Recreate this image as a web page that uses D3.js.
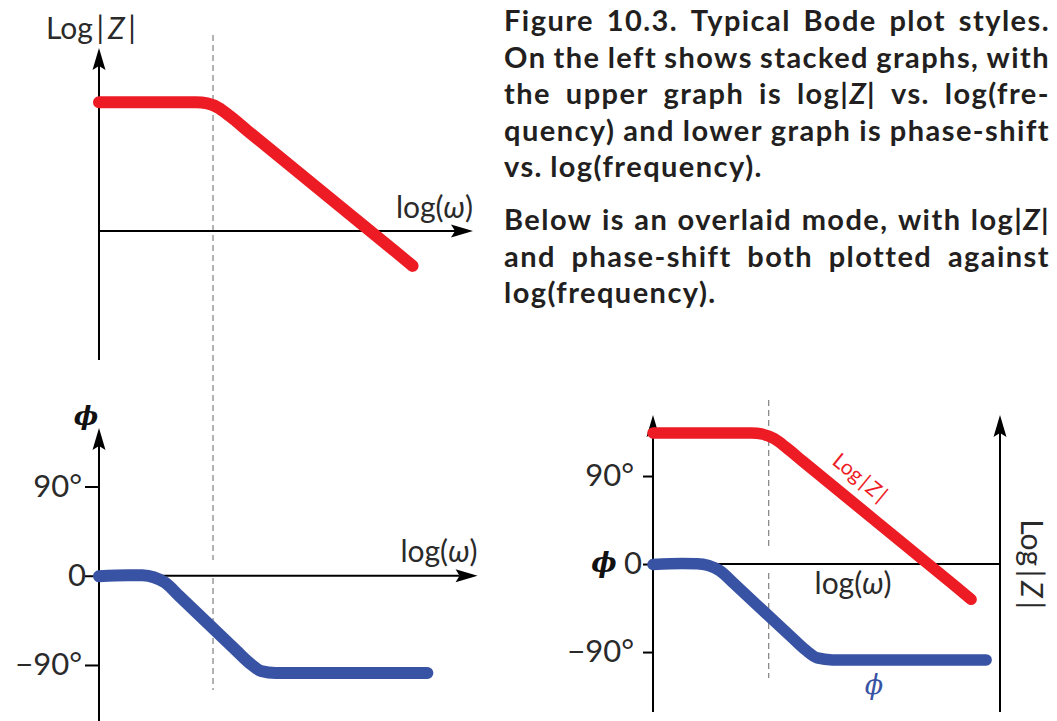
<!DOCTYPE html>
<html><head><meta charset="utf-8">
<script src="https://cdn.jsdelivr.net/npm/d3@7"></script>
<style>body{margin:0;background:#fff}svg{display:block}</style>
</head><body>
<svg id="c" width="1057" height="721"></svg>
<script>
// ---------------- data ----------------
// x = log(omega) relative to the corner frequency (dashed line at 0)
const magLogOmega   = [-1, -0.15, -0.05, 0.05, 0.15, 0.3, 1.6, 1.75];
const magValues     = [1.0, 1.0, 0.99, 0.955, 0.89, 0.78, -0.16, -0.27];      // log|Z| (arbitrary units)
const phaseLogOmega = [-1, -0.75, -0.62, -0.52, -0.42, -0.3, 0.2, 0.32, 0.42, 0.55, 1.88];
const phaseValues   = [-0.5, 0.6, 0.4, -1.5, -7, -20, -75, -88, -96, -98, -98];   // degrees
const phaseTicks      = [90, 0, -90];
const phaseTickLabels = ["90°", "0", "−90°"];
const captionLines = [
  "Figure 10.3. Typical Bode plot styles.",
  "On the left shows stacked graphs, with",
  "the upper graph is log|*Z*| vs. log(fre-",
  "quency) and lower graph is phase-shift",
  "vs. log(frequency).",
  "Below is an overlaid mode, with log|*Z*|",
  "and phase-shift both plotted against",
  "log(frequency)."
];
const captionJustify = [true, true, true, true, false, true, true, false];
const captionParagraphStart = [false, false, false, false, false, true, false, false];

// ---------------- styles ----------------
const RED = "#ED1C24", BLUE = "#3953A4", INK = "#231F20", DASH = "#8a8a8a", LAB = "#2a2a2a";
const LFONT = "Lato, 'Open Sans', sans-serif";
const GREEK = "'DejaVu Serif', serif";
const TS = "\u2009";
const svg = d3.select("#c");

const magData = magLogOmega.map((x, i) => [x, magValues[i]]);
const phaseData = phaseLogOmega.map((x, i) => [x, phaseValues[i]]);

function arrow(g, x1, y1, x2, y2) {
  const dx = x2 - x1, dy = y2 - y1, L = Math.hypot(dx, dy), ux = dx / L, uy = dy / L, px = -uy, py = ux;
  const hl = 22, hw = 6.5, notch = 4;
  g.append("line").attr("x1", x1).attr("y1", y1)
    .attr("x2", x2 - ux * (hl - notch)).attr("y2", y2 - uy * (hl - notch))
    .attr("stroke", "#000").attr("stroke-width", 2);
  const bx = x2 - ux * hl, by = y2 - uy * hl;
  const pts = [[x2, y2], [bx + px * hw, by + py * hw], [x2 - ux * (hl - notch), y2 - uy * (hl - notch)], [bx - px * hw, by - py * hw]];
  g.append("path").attr("d", "M" + pts.map(p => p.join(",")).join("L") + "Z").attr("fill", "#000");
}
function dashed(g, x, y1, y2) {
  g.append("line").attr("x1", x).attr("x2", x).attr("y1", y1).attr("y2", y2)
    .attr("stroke", DASH).attr("stroke-width", 1.3).attr("stroke-dasharray", "6,4");
}
function curve(g, data, xs, ys, color, w) {
  g.append("path").datum(data)
    .attr("d", d3.line().x(d => xs(d[0])).y(d => ys(d[1])).curve(d3.curveMonotoneX))
    .attr("fill", "none").attr("stroke", color).attr("stroke-width", w)
    .attr("stroke-linecap", "round").attr("stroke-linejoin", "round");
}
function richText(t, str) {
  str.split("*").forEach((s, i) => { if (s) t.append("tspan").attr("font-style", i % 2 ? "italic" : null).text(s); });
  return t;
}
function styleTicks(ax, pad0) {
  ax.select(".domain").remove();
  ax.selectAll(".tick line").attr("stroke", "#000").attr("stroke-width", 2);
  ax.selectAll(".tick text").attr("font-family", LFONT).attr("font-size", 31).attr("fill", LAB)
    .attr("dx", d => d === 0 ? pad0 : 0);
}
const LOGZ = "Log" + TS + "|" + TS + "*Z*" + TS + "|";

// ---------------- left stacked plots ----------------
const xL = d3.scaleLinear().domain([-1, 2.28]).range([99, 473]);
const magY = d3.scaleLinear().domain([-1, 1.42]).range([360, 48]);
const phY = d3.scaleLinear().domain([-146.5, 149]).range([721, 428]);

const gL = svg.append("g");
dashed(gL, xL(0), 35, 560);
dashed(gL, xL(0), 578, 690);

// top: log|Z|
arrow(gL, xL(-1), magY(-1), xL(-1), magY(1.42));
arrow(gL, xL(-1), magY(0), xL(2.28), magY(0));
curve(gL, magData, xL, magY, RED, 12);
richText(gL.append("text").attr("x", 46).attr("y", 39).attr("font-family", LFONT).attr("font-size", 30).attr("fill", LAB), LOGZ);
richText(gL.append("text").attr("x", xL(2.28)).attr("y", magY(0) - 13).attr("text-anchor", "end").attr("font-family", LFONT).attr("font-size", 30).attr("fill", LAB), "log(*ω*)");

// bottom: phase
arrow(gL, xL(-1), 721, xL(-1), phY(149));
arrow(gL, xL(-1), phY(0), xL(2.32), phY(0));
const axL = gL.append("g").attr("transform", `translate(${xL(-1)},0)`)
  .call(d3.axisLeft(phY).tickValues(phaseTicks).tickSize(14).tickPadding(3).tickFormat((d, i) => phaseTickLabels[i]));
styleTicks(axL, 4);
curve(gL, phaseData, xL, phY, BLUE, 12);
gL.append("text").attr("x", xL(-1) - 13).attr("y", phY(149) - 3).attr("text-anchor", "middle")
  .attr("font-family", GREEK).attr("font-style", "italic").attr("font-weight", "bold").attr("font-size", 26).attr("fill", "#111").text("ϕ");
richText(gL.append("text").attr("x", xL(2.32)).attr("y", phY(0) - 14).attr("text-anchor", "end").attr("font-family", LFONT).attr("font-size", 30).attr("fill", LAB), "log(*ω*)");

// ---------------- overlay plot ----------------
const xO = d3.scaleLinear().domain([-1, 2]).range([653, 1000]);
const phO = d3.scaleLinear().domain([-151.3, 152.4]).range([712, 415]);
const magO = d3.scaleLinear().domain([-1.13, 1.137]).range([712, 415]);
const gO = svg.append("g");
dashed(gO, xO(0), 400, 547);
dashed(gO, xO(0), 573, 678);
arrow(gO, xO(-1), 712, xO(-1), 415);
arrow(gO, xO(2), 712, xO(2), 415);
gO.append("line").attr("x1", xO(-1)).attr("x2", xO(2)).attr("y1", phO(0)).attr("y2", phO(0)).attr("stroke", "#000").attr("stroke-width", 2);
const axO = gO.append("g").attr("transform", `translate(${xO(-1)},0)`)
  .call(d3.axisLeft(phO).tickValues(phaseTicks).tickSize(10).tickPadding(9).tickFormat((d, i) => phaseTickLabels[i]));
styleTicks(axO, 8);
curve(gO, magData, xO, magO, RED, 11.5);
curve(gO, phaseData, xO, phO, BLUE, 11.5);
gO.append("text").attr("x", xO(-1) - 49).attr("y", phO(0) + 8).attr("text-anchor", "middle")
  .attr("font-family", GREEK).attr("font-style", "italic").attr("font-weight", "bold").attr("font-size", 27).attr("fill", "#111").text("ϕ");
richText(gO.append("text").attr("x", xO(0.73)).attr("y", phO(0) + 30).attr("text-anchor", "middle").attr("font-family", LFONT).attr("font-size", 30).attr("fill", LAB), "log(*ω*)");
gO.append("text").attr("x", xO(0.91)).attr("y", phO(-90) + 42).attr("text-anchor", "middle")
  .attr("font-family", GREEK).attr("font-style", "italic").attr("font-size", 27).attr("fill", BLUE).text("ϕ");
// label along the red line
const n = magData.length, pa = magData[n - 3], pb = magData[n - 2];
const ang = Math.atan2(magO(pb[1]) - magO(pa[1]), xO(pb[0]) - xO(pa[0])) * 180 / Math.PI;
richText(gO.append("text").attr("transform", `translate(${xO(0.79)},${magO(0.66)}) rotate(${ang})`)
  .attr("text-anchor", "middle").attr("dy", "0.35em").attr("font-family", LFONT).attr("font-size", 21).attr("fill", RED), LOGZ);
richText(gO.append("text").attr("transform", `translate(${xO(2) + 21},${phO(0)}) rotate(90)`)
  .attr("text-anchor", "middle").attr("font-family", LFONT).attr("font-size", 30).attr("fill", LAB), LOGZ);

// ---------------- caption (justified) ----------------
const capX0 = 504, capX1 = 1050, capY0 = 31, capLH = 36.5, capPara = 16.5;
const gC = svg.append("g").attr("font-family", LFONT).attr("font-weight", "bold").attr("fill", INK);
const capFS = 29;
const words = captionLines.map(l => l.split(" "));
function measure(ls) {
  const tmp = gC.append("text").attr("font-size", capFS).attr("letter-spacing", ls);
  const res = words.map(ws => ws.map(w => { tmp.selectAll("*").remove(); richText(tmp, w); return tmp.node().getComputedTextLength(); }));
  tmp.remove();
  return res;
}
let widths = measure(0);
let ls = Infinity;
widths.forEach((ws, i) => {
  if (!captionJustify[i]) return;
  const chars = words[i].join("").replace(/\*/g, "").length;
  const tot = d3.sum(ws) + (ws.length - 1) * capFS * 0.25;
  ls = Math.min(ls, (capX1 - capX0 - tot) / chars);
});
ls = Math.max(-1, Math.min(ls, 2));
widths = measure(ls);
let y = capY0;
words.forEach((ws, i) => {
  if (i > 0) y += capLH + (captionParagraphStart[i] ? capPara : 0);
  const tot = d3.sum(widths[i]);
  const gap = captionJustify[i] ? (capX1 - capX0 - tot) / (ws.length - 1) : capFS * 0.25;
  let x = capX0;
  ws.forEach((w, j) => {
    richText(gC.append("text").attr("x", x).attr("y", y).attr("font-size", capFS).attr("letter-spacing", ls), w);
    x += widths[i][j] + gap;
  });
});
</script>
</body></html>
